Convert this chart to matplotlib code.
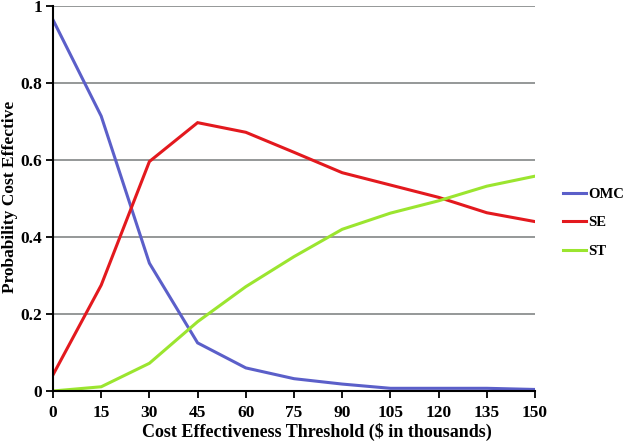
import matplotlib
matplotlib.use("Agg")
import matplotlib.pyplot as plt

thresholds = [0, 15, 30, 45, 60, 75, 90, 105, 120, 135, 150]
omc = [0.964, 0.714, 0.332, 0.125, 0.060, 0.032, 0.018, 0.007, 0.007, 0.007, 0.004]
se = [0.042, 0.275, 0.596, 0.697, 0.672, 0.620, 0.567, 0.535, 0.503, 0.463, 0.440]
st = [0.0, 0.011, 0.072, 0.180, 0.271, 0.349, 0.420, 0.462, 0.494, 0.532, 0.558]
series_names = ["OMC", "SE", "ST"]
colors = ["#5b5fc9", "#e3191e", "#9be52f"]
x_ticks = [0, 15, 30, 45, 60, 75, 90, 105, 120, 135, 150]
y_ticks = [0, 0.2, 0.4, 0.6, 0.8, 1]
y_tick_labels = ["0", "0.2", "0.4", "0.6", "0.8", "1"]

plt.rcParams['font.family'] = ['Liberation Serif', 'DejaVu Serif']
plt.rcParams['font.weight'] = 'bold'

fig = plt.figure(figsize=(6.25, 4.42), dpi=100)
ax = fig.add_axes([53/625, 1 - 391/442, (535-53)/625, (391-6)/442])

for vals, name, c in zip([omc, se, st], series_names, colors):
    ax.plot(thresholds, vals, color=c, lw=2.2, label=name, solid_joinstyle='miter')

ax.set_xlim(0, 150)
ax.set_ylim(0, 1)
ax.set_xticks(x_ticks)
ax.set_xticklabels([str(t) for t in x_ticks], fontsize=12.5, fontweight='bold')
ax.set_yticks(y_ticks)
ax.set_yticklabels(y_tick_labels, fontsize=12.5, fontweight='bold')
ax.yaxis.grid(True, color='#8c9090', lw=1.3)
ax.set_axisbelow(True)
for s in ['top', 'right']:
    ax.spines[s].set_visible(False)
for s in ['left', 'bottom']:
    ax.spines[s].set_color('black')
    ax.spines[s].set_linewidth(1.5)
ax.tick_params(axis='both', direction='out', length=5, width=1.3, color='black', pad=3)
ax.tick_params(axis='x', pad=5)
ax.set_xlabel("Cost Effectiveness Threshold ($ in thousands)", fontsize=13, fontweight='bold')
ax.set_ylabel("Probability Cost Effective", fontsize=12.5, fontweight='bold')
ax.xaxis.set_label_coords((317 - 53) / 482, (391 - 423) / 385)
ax.xaxis.label.set_va('top')
ax.yaxis.set_label_coords((18 - 53) / 482, (391 - 197) / 385)

leg = ax.legend(loc='center left', bbox_to_anchor=((563 - 53) / 482, (391 - 222.7) / 385),
                frameon=False, borderaxespad=0, borderpad=0,
                handlelength=1.6, handletextpad=0.1, labelspacing=1.05,
                prop={'weight': 'bold', 'size': 10.5})

fig.savefig("out.png", dpi=100)
